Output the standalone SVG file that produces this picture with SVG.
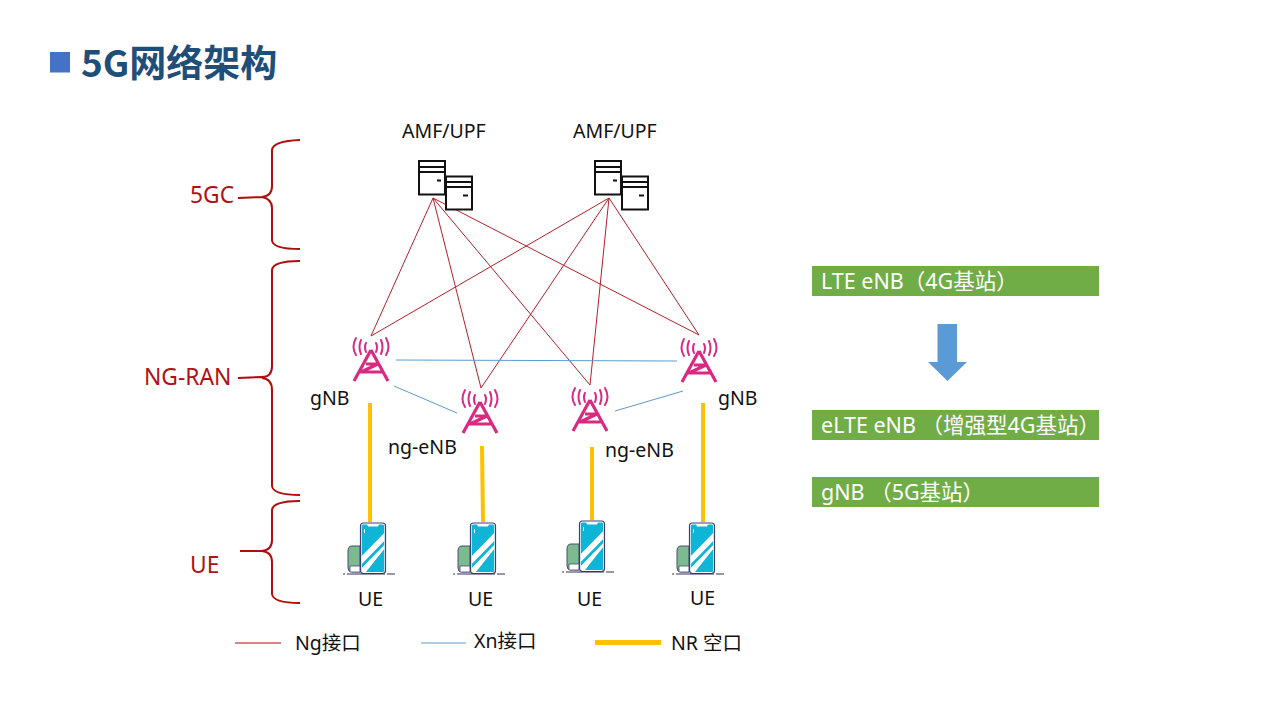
<svg xmlns="http://www.w3.org/2000/svg" xmlns:xlink="http://www.w3.org/1999/xlink" width="1280" height="720" viewBox="0 0 1280 720">
<style>
text{font-family:"Noto Sans","Noto Sans CJK SC",sans-serif;font-size:19.500px;fill:#111}
.red{fill:#b01116;font-size:22.800px}
.wt{fill:#fff;font-size:21.500px}
.ng{stroke:#b3202a;stroke-width:1;fill:none}
.xn{stroke:#5f9bcc;stroke-width:1;fill:none}
.nr{stroke:#ffc000;stroke-width:4;fill:none}
.br{stroke:#b00d0d;stroke-width:2;fill:none}
.srv{fill:#fff;stroke:#111;stroke-width:2}
</style>
<defs>
<g id="server">
<rect class="srv" x="419" y="161" width="26" height="33.500"/>
<path class="srv" d="M419 167H445M419 172H445"/>
<path d="M437 180.500H441" stroke="#111" stroke-width="2"/>
<rect class="srv" x="446" y="176.500" width="26" height="33"/>
<path class="srv" d="M446 182H472M446 187H472"/>
<path d="M463 195.500H468" stroke="#111" stroke-width="2"/>
</g>
<g id="tower" fill="none" stroke="#d92a82" stroke-width="2" stroke-linecap="round">
<path stroke-width="3.200" stroke-linecap="butt" d="M0 0L-17 31M0 0L17 31M-11 22H11M-10 22L7 14M-5 14H6"/>
<path d="M-5 -7Q-7 -3 -5 2M5 -7Q7 -3 5 2M-10 -10Q-13 -3 -10 4M10 -10Q13 -3 10 4M-15 -12Q-20 -3 -15 5M15 -12Q20 -3 15 5"/>
</g>
<g id="phone">
<path d="M360 546H352Q348 546 348 551V568Q348 572 352 572H360Z" fill="#7cba8f" stroke="#4a4a78"/>
<path d="M350 566H360V572H350Z" fill="#fff" stroke="#4a4a78" stroke-width=".8"/>
<rect x="360.500" y="523" width="25" height="50.500" rx="3" fill="#fff" stroke="#3f3f70" stroke-width="1.200"/>
<rect x="361.800" y="524.500" width="22.400" height="47.500" rx="1.500" fill="#0fb5d6"/>
<path d="M367 524H379L378 526.500H368Z" fill="#fff"/>
<path d="M361.800 556L384.200 533V541L361.800 564ZM361.800 568L384.200 545V549L366 572H361.800Z" fill="#fff"/>
<path d="M364.500 529V533" stroke="#fff"/>
<path d="M343 574H395" stroke="#2f2f60" stroke-width="1.200" stroke-dasharray="2 2 38 2 8 0"/>
</g>
</defs>
<rect width="1280" height="720" fill="#fff"/>
<g id="title">
<rect x="50" y="52" width="20" height="20.500" fill="#4472c4"/>
<text x="81" y="77" style="font-size:37px;font-weight:700;fill:#1f4e79;font-family:'Noto Sans CJK SC','Noto Sans',sans-serif">5G网络架构</text>
</g>
<g id="connectors">
<path class="ng" d="M433 198L371 336M433 198L481 388M433 198L590 385M433 198L699 335M609 198L371 336M609 198L481 388M609 198L590 385M609 198L699 335"/>
<path class="xn" d="M396 360L677 361M394 386L457 413M615 411L683 391"/>
<path class="nr" d="M370 403V522M482 446L483 522M592 447V520M703 403V522"/>
</g>
<g id="brace-5gc"><path class="br" d="M300 140Q273 141 272 150V186Q272 196 262 197L238 198M262 197Q272 199 272 208V240Q272 249 300 249"/><text class="red" x="190" y="203">5GC</text></g>
<g id="brace-ngran"><path class="br" d="M300 261Q273 261 272 270V366Q272 377 262 377L238 378M262 378Q272 379 272 390V486Q273 495 300 495"/><text class="red" x="144" y="385">NG-RAN</text></g>
<g id="brace-ue"><path class="br" d="M300 501Q273 501 272 510V540Q272 550 262 551L240 551M262 551Q272 552 272 562V594Q273 603 300 603"/><text class="red" x="190" y="573">UE</text></g>
<g id="amf1"><use xlink:href="#server" href="#server"/><text x="402" y="138">AMF/UPF</text></g>
<g id="amf2"><use xlink:href="#server" href="#server" x="176"/><text x="573" y="138">AMF/UPF</text></g>
<g id="gnb1"><use xlink:href="#tower" href="#tower" x="371" y="350"/><text x="310" y="405">gNB</text></g>
<g id="ngenb1"><use xlink:href="#tower" href="#tower" x="480" y="402"/><text x="388" y="454">ng-eNB</text></g>
<g id="ngenb2"><use xlink:href="#tower" href="#tower" x="590" y="400"/><text x="605" y="457">ng-eNB</text></g>
<g id="gnb2"><use xlink:href="#tower" href="#tower" x="699" y="351"/><text x="718" y="405">gNB</text></g>
<g id="ue1"><use xlink:href="#phone" href="#phone"/><text x="358" y="606">UE</text></g>
<g id="ue2"><use xlink:href="#phone" href="#phone" x="110"/><text x="468" y="606">UE</text></g>
<g id="ue3"><use xlink:href="#phone" href="#phone" x="219" y="-2"/><text x="577" y="606">UE</text></g>
<g id="ue4"><use xlink:href="#phone" href="#phone" x="329"/><text x="690" y="605">UE</text></g>
<g id="legend">
<path class="ng" d="M235 643H281" style="stroke:#b00d0d"/><text x="295" y="650">Ng接口</text>
<path class="xn" d="M421 643H466"/><text x="474" y="648">Xn接口</text>
<path class="nr" d="M595 642.500H661" style="stroke-width:5"/><text x="671" y="650">NR 空口</text>
</g>
<g id="box-lte"><rect x="812" y="266" width="287" height="30" fill="#70ad47"/><text class="wt" x="821" y="289">LTE eNB（4G基站）</text></g>
<path id="down-arrow" d="M937.500 324H957V362H967L947.500 381L928 362H937.500Z" fill="#5b9bd5"/>
<g id="box-elte"><rect x="812" y="410" width="287" height="30" fill="#70ad47"/><text class="wt" x="821" y="433">eLTE eNB （增强型4G基站）</text></g>
<g id="box-gnb"><rect x="812" y="477" width="287" height="30" fill="#70ad47"/><text class="wt" x="821" y="500">gNB （5G基站）</text></g>
</svg>
